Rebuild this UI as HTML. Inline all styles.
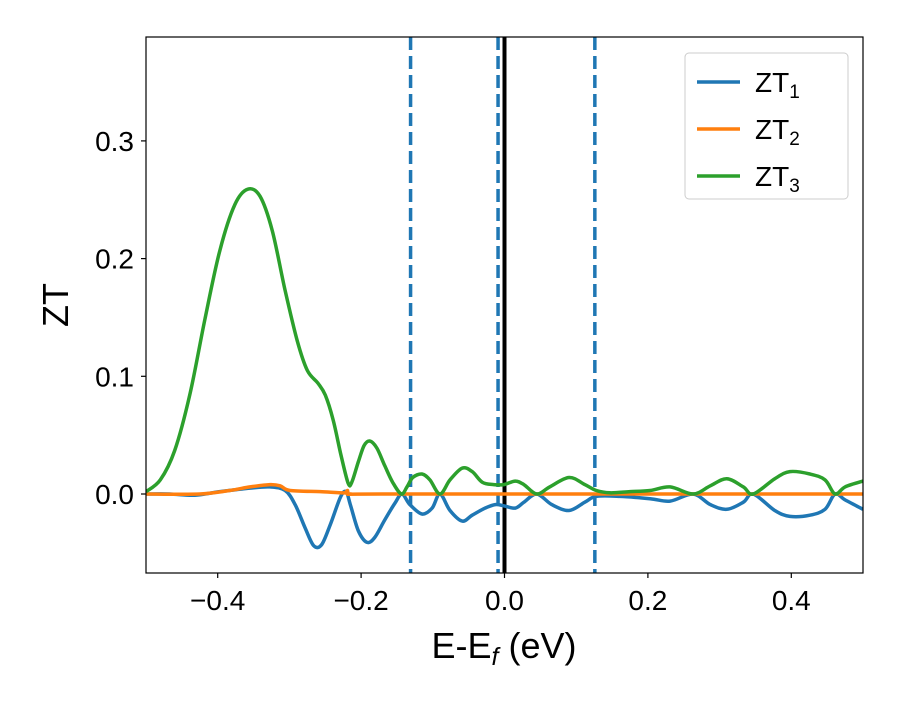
<!DOCTYPE html>
<html><head><meta charset="utf-8"><style>
body{margin:0;background:#fff}
svg text{font-family:"Liberation Sans","DejaVu Sans",sans-serif;fill:#000}
</style></head><body>
<svg id="c" width="900" height="700" xmlns="http://www.w3.org/2000/svg"></svg>
<script>
const xTicks=[-0.4,-0.2,0.0,0.2,0.4];
const xTickLabels=["\u22120.4","\u22120.2","0.0","0.2","0.4"];
const yTicks=[0.0,0.1,0.2,0.3];
const yTickLabels=["0.0","0.1","0.2","0.3"];
const vDashed=[-0.131,-0.009,0.126];
const zt3X=[-0.5,-0.48,-0.46,-0.439,-0.418,-0.397,-0.376,-0.358,-0.341,-0.324,-0.306,-0.289,-0.275,-0.26,-0.25,-0.239,-0.228,-0.218,-0.213,-0.204,-0.196,-0.188,-0.178,-0.167,-0.156,-0.144,-0.136,-0.128,-0.115,-0.104,-0.09,-0.076,-0.059,-0.045,-0.031,-0.015,-0.001,0.015,0.027,0.045,0.063,0.09,0.112,0.128,0.147,0.175,0.203,0.231,0.263,0.287,0.31,0.333,0.347,0.377,0.398,0.426,0.447,0.461,0.475,0.5];
const zt3Y=[0.002,0.012,0.037,0.084,0.148,0.207,0.246,0.259,0.253,0.224,0.173,0.13,0.105,0.094,0.084,0.063,0.033,0.009,0.01,0.027,0.041,0.045,0.039,0.024,0.01,0.0,0.006,0.014,0.017,0.012,0.0,0.012,0.022,0.019,0.01,0.008,0.008,0.011,0.008,0.0,0.006,0.014,0.008,0.003,0.001,0.002,0.003,0.006,0.0,0.007,0.013,0.006,0.0,0.013,0.019,0.017,0.012,0.0,0.006,0.011];
const zt1X=[-0.5,-0.467,-0.432,-0.397,-0.355,-0.327,-0.306,-0.292,-0.278,-0.266,-0.255,-0.243,-0.229,-0.221,-0.215,-0.204,-0.192,-0.181,-0.167,-0.153,-0.143,-0.132,-0.115,-0.101,-0.09,-0.076,-0.059,-0.045,-0.027,-0.013,-0.001,0.015,0.027,0.045,0.066,0.09,0.112,0.128,0.161,0.203,0.231,0.263,0.287,0.31,0.333,0.347,0.377,0.398,0.426,0.447,0.461,0.475,0.5];
const zt1Y=[0,0,-0.001,0.002,0.005,0.006,0.003,-0.009,-0.029,-0.044,-0.043,-0.026,-0.003,0.002,-0.009,-0.031,-0.041,-0.037,-0.022,-0.008,0,-0.009,-0.017,-0.012,0,-0.014,-0.023,-0.018,-0.012,-0.009,-0.01,-0.012,-0.007,0,-0.009,-0.014,-0.007,-0.002,-0.002,-0.004,-0.006,0,-0.009,-0.013,-0.007,0,-0.014,-0.019,-0.018,-0.013,0,-0.005,-0.013];
const zt2X=[-0.5,-0.425,-0.383,-0.355,-0.327,-0.313,-0.299,-0.257,-0.222,-0.219,-0.215,-0.143,0.5];
const zt2Y=[0,0,0.003,0.006,0.008,0.007,0.003,0.002,0.001,0.003,0,0,0];

const L=146,R=863,T=37,B=573,xmin=-0.5,xmax=0.5,ymin=-0.0675,ymax=0.388;
const sx=v=>L+(v-xmin)/(xmax-xmin)*(R-L);
const sy=v=>494-v*1177;
const svg=document.getElementById('c');const NS='http://www.w3.org/2000/svg';
function mk(t,a,p){const e=document.createElementNS(NS,t);for(const k in a)e.setAttribute(k,a[k]);(p||svg).appendChild(e);return e;}
const clip=mk('clipPath',{id:'pc'});mk('rect',{x:L,y:T,width:R-L,height:B-T},clip);
function smooth(xs,ys){const p=xs.map((x,i)=>[sx(x),sy(ys[i])]);let d='M'+p[0][0]+','+p[0][1];
for(let i=0;i<p.length-1;i++){const p0=p[i-1]||p[i],p1=p[i],p2=p[i+1],p3=p[i+2]||p2;
const c1=[p1[0]+(p2[0]-p0[0])/6,p1[1]+(p2[1]-p0[1])/6],c2=[p2[0]-(p3[0]-p1[0])/6,p2[1]-(p3[1]-p1[1])/6];
d+=`C${c1[0].toFixed(1)},${c1[1].toFixed(1)} ${c2[0].toFixed(1)},${c2[1].toFixed(1)} ${p2[0].toFixed(1)},${p2[1].toFixed(1)}`;}return d;}
const g=mk('g',{'clip-path':'url(#pc)'});

vDashed.forEach(v=>{const l=mk('line',{x1:sx(v),x2:sx(v),y1:T,y2:B,stroke:'#1f77b4','stroke-width':3.5,'stroke-dasharray':'13,6'},g);
});
const z=mk('line',{x1:sx(0),x2:sx(0),y1:T,y2:B,stroke:'#000','stroke-width':4},g);

[[zt1X,zt1Y,'#1f77b4','series-zt1'],[zt2X,zt2Y,'#ff7f0e','series-zt2'],[zt3X,zt3Y,'#2ca02c','series-zt3']].forEach(s=>{
const p=mk('path',{d:smooth(s[0],s[1]),fill:'none',stroke:s[2],'stroke-width':3.5,'stroke-linejoin':'round'},g);
});
const fr=mk('rect',{x:L,y:T,width:R-L,height:B-T,fill:'none',stroke:'#000','stroke-width':1.2});

xTicks.forEach((v,i)=>{mk('line',{x1:sx(v),x2:sx(v),y1:B,y2:B+5,stroke:'#000','stroke-width':1.2});
const t=mk('text',{x:sx(v),y:B+37,'text-anchor':'middle','font-size':28});t.textContent=xTickLabels[i];
});
yTicks.forEach((v,i)=>{mk('line',{x1:L-5,x2:L,y1:sy(v),y2:sy(v),stroke:'#000','stroke-width':1.2});
const t=mk('text',{x:L-12,y:sy(v)+10,'text-anchor':'end','font-size':28});t.textContent=yTickLabels[i];
});
</script>
<svg width="900" height="700" style="position:absolute;left:0;top:0" xmlns="http://www.w3.org/2000/svg">
<text x="504" y="658" text-anchor="middle" font-size="36" style="font-family:'Liberation Sans',sans-serif">E-E<tspan font-size="25" font-style="italic" dy="7">f</tspan><tspan dy="-7"> (eV)</tspan></text>
<text transform="translate(68,305) rotate(-90)" text-anchor="middle" font-size="36" style="font-family:'Liberation Sans',sans-serif">ZT</text>
<g>
<rect x="685" y="53" width="163" height="146" rx="4" fill="#fff" fill-opacity="0.8" stroke="#ccc"/>
<line x1="697" x2="740" y1="82" y2="82" stroke="#1f77b4" stroke-width="3.5"/>
<text x="755" y="92" font-size="28" style="font-family:'Liberation Sans',sans-serif">ZT<tspan font-size="19" dy="6">1</tspan></text>
<line x1="697" x2="740" y1="129" y2="129" stroke="#ff7f0e" stroke-width="3.5"/>
<text x="755" y="139" font-size="28" style="font-family:'Liberation Sans',sans-serif">ZT<tspan font-size="19" dy="6">2</tspan></text>
<line x1="697" x2="740" y1="176" y2="176" stroke="#2ca02c" stroke-width="3.5"/>
<text x="755" y="186" font-size="28" style="font-family:'Liberation Sans',sans-serif">ZT<tspan font-size="19" dy="6">3</tspan></text>
</g>
</svg>
</body></html>
